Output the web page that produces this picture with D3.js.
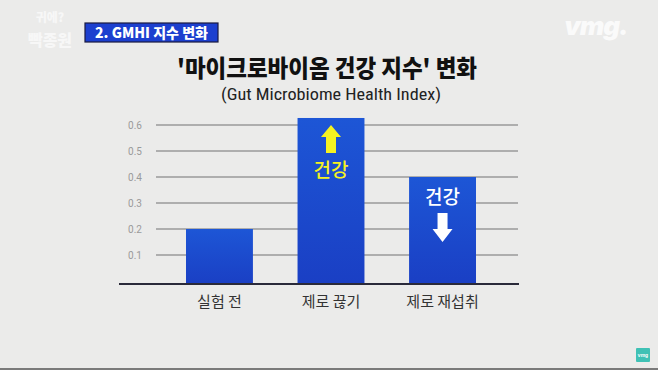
<!DOCTYPE html>
<html><head><meta charset="utf-8">
<script src="https://cdn.jsdelivr.net/npm/d3@7"></script>
<style>
html,body{margin:0;padding:0;background:#ebebea;}
svg{display:block;}
</style></head>
<body>
<svg id="c" width="658" height="370"></svg>
<script>
const categories = ["실험 전", "제로 끊기", "제로 재섭취"];
const values = [0.2, 0.627, 0.4];
const yTicks = [0.1, 0.2, 0.3, 0.4, 0.5, 0.6];
const tickLabels = ["0.1", "0.2", "0.3", "0.4", "0.5", "0.6"];
const title = "'마이크로바이옴 건강 지수' 변화";
const subtitle = "(Gut Microbiome Health Index)";
const badge = "2. GMHI 지수 변화";
const annotations = [null, {text:"건강", dir:"up", color:"#f5f221"}, {text:"건강", dir:"down", color:"#ffffff"}];

const svg = d3.select("#c");
const W = 658, H = 370;
const KR = "'Noto Sans CJK KR', 'Noto Sans', sans-serif";

const defs = svg.append("defs");
const grad = defs.append("linearGradient").attr("id","barG").attr("x1",0).attr("y1",0).attr("x2",0).attr("y2",1);
grad.append("stop").attr("offset","0%").attr("stop-color","#1d56d6");
grad.append("stop").attr("offset","100%").attr("stop-color","#1a3fc4");

svg.append("rect").attr("width",W).attr("height",H).attr("fill","#ebebea");
svg.append("line").attr("x1",0).attr("x2",W).attr("y1",369).attr("y2",369).attr("stroke","#555").attr("stroke-width",1.5);

const x = d3.scaleBand().domain(categories).range([186, 476]).paddingInner(0.4).paddingOuter(0);
const y = d3.scaleLinear().domain([0, 0.6]).range([281, 125]);

// gridlines
svg.append("g").selectAll("line").data(yTicks).join("line")
  .attr("x1",156).attr("x2",518)
  .attr("y1",d=>y(d)).attr("y2",d=>y(d))
  .attr("stroke","#9a9a9a").attr("stroke-width",1.3);

// tick labels
svg.append("g").selectAll("text").data(yTicks).join("text")
  .attr("x",135).attr("y",d=>y(d)+4)
  .attr("text-anchor","middle")
  .attr("font-family","'Roboto', 'Noto Sans', sans-serif").attr("font-size",10)
  .attr("fill","#9a9a9a")
  .text((d,i)=>tickLabels[i]);

// bars
svg.append("g").selectAll("rect").data(values).join("rect")
  .attr("x",(d,i)=>x(categories[i]))
  .attr("width",x.bandwidth())
  .attr("y",d=>y(d))
  .attr("height",d=>y(0)+3-y(d))
  .attr("fill","url(#barG)");

// baseline
svg.append("line").attr("x1",119).attr("x2",519).attr("y1",y(0)+3).attr("y2",y(0)+3)
  .attr("stroke","#2a2a3a").attr("stroke-width",2);

// category labels
svg.append("g").selectAll("text").data(categories).join("text")
  .attr("x",d=>x(d)+x.bandwidth()/2).attr("y",307)
  .attr("text-anchor","middle")
  .attr("font-family",KR).attr("font-size",15).attr("fill","#333")
  .text(d=>d);

// annotations
annotations.forEach((a,i)=>{
  if(!a) return;
  const cx = x(categories[i]) + x.bandwidth()/2;
  const g = svg.append("g");
  let arrowTop, textY;
  if(a.dir==="up"){
    arrowTop = y(values[i]) + 7;
    const p = [[cx,arrowTop],[cx+10,arrowTop+12],[cx+5,arrowTop+12],[cx+5,arrowTop+28],[cx-5,arrowTop+28],[cx-5,arrowTop+12],[cx-10,arrowTop+12]];
    g.append("polygon").attr("points",p.map(q=>q.join(",")).join(" ")).attr("fill",a.color);
    textY = arrowTop + 52;
  } else {
    textY = y(values[i]) + 27;
    const t = y(values[i]) + 36;
    const p = [[cx-5,t],[cx+5,t],[cx+5,t+16],[cx+10,t+16],[cx,t+29],[cx-10,t+16],[cx-5,t+16]];
    g.append("polygon").attr("points",p.map(q=>q.join(",")).join(" ")).attr("fill",a.color);
  }
  g.append("text").attr("x",cx).attr("y",textY).attr("text-anchor","middle")
    .attr("font-family",KR).attr("font-size",19).attr("font-weight",500)
    .attr("fill",a.color).text(a.text);
});

// title
svg.append("text").attr("x",327).attr("y",77).attr("text-anchor","middle")
  .attr("font-family",KR).attr("font-size",24).attr("font-weight",900)
  .attr("textLength",300).attr("lengthAdjust","spacingAndGlyphs")
  .attr("fill","#111").text(title);
svg.append("text").attr("x",331).attr("y",100).attr("text-anchor","middle")
  .attr("font-family","'Roboto Condensed', 'Liberation Sans Narrow', 'Noto Sans', sans-serif").attr("font-size",17)
  .attr("textLength",220).attr("lengthAdjust","spacingAndGlyphs")
  .attr("fill","#222").text(subtitle);

// badge
svg.append("rect").attr("x",85).attr("y",23).attr("width",133).attr("height",19)
  .attr("fill","#1c3fcf").attr("stroke","#1a1a40").attr("stroke-width",1.2);
svg.append("text").attr("x",151.5).attr("y",38).attr("text-anchor","middle")
  .attr("font-family",KR).attr("font-size",14).attr("font-weight",900)
  .attr("fill","#fff").text(badge);

// watermark logo top-left
svg.append("text").attr("x",50).attr("y",22).attr("text-anchor","middle")
  .attr("font-family",KR).attr("font-size",12).attr("font-weight",900)
  .attr("fill","#f7f7f7").text("귀에?");
svg.append("text").attr("x",50).attr("y",46).attr("text-anchor","middle")
  .attr("font-family",KR).attr("font-size",16).attr("font-weight",900)
  .attr("fill","#f7f7f7").text("빡종원");

// vmg logo
svg.append("text").attr("x",596).attr("y",35).attr("text-anchor","middle")
  .attr("font-family","'Inter', 'DejaVu Sans', sans-serif").attr("font-size",26).attr("font-weight",900)
  .attr("font-style","italic").attr("letter-spacing",-1)
  .attr("fill","#fafafa").text("vmg.");

// small teal badge
svg.append("rect").attr("x",636).attr("y",348).attr("width",14).attr("height",14).attr("rx",1)
  .attr("fill","#3fc1b5");
svg.append("text").attr("x",643).attr("y",357).attr("text-anchor","middle")
  .attr("font-family","sans-serif").attr("font-size",5).attr("font-weight",700)
  .attr("fill","#fff").text("vmg");
</script>
</body></html>
